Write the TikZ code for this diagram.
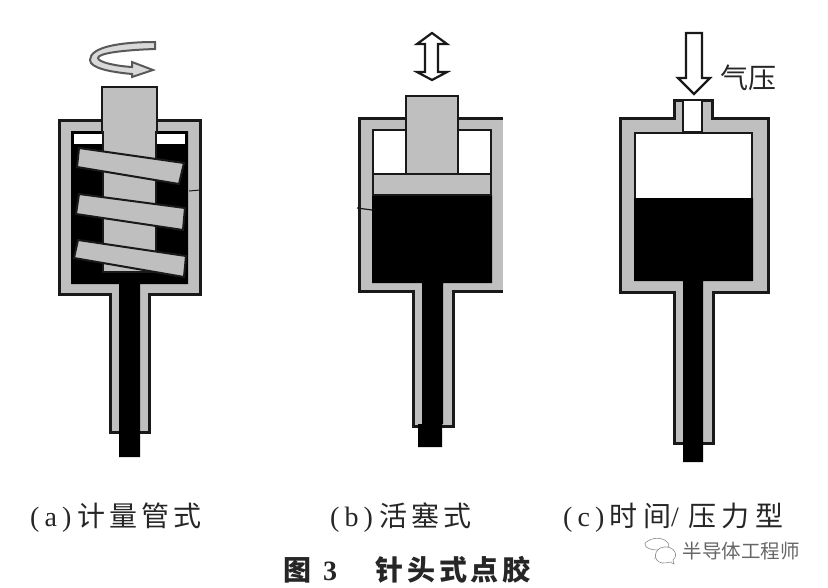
\documentclass[tikz,border=0pt]{standalone}
\usepackage{fontspec}
\setmainfont{Liberation Serif}
\newfontfamily\cjk{Noto Sans CJK SC}
\newfontfamily\cjkwide[LetterSpace=14]{Noto Sans CJK SC}
\newfontfamily\cjkwider[LetterSpace=21]{Noto Sans CJK SC}
\newfontfamily\spaced[LetterSpace=18]{Liberation Serif}
\definecolor{wallgray}{gray}{.75}
\definecolor{inkline}{gray}{.1}
\tikzset{
  wall/.style={draw=inkline, line width=3pt, fill=wallgray, line join=miter},
  glue/.style={fill=black},
  part/.style={draw=inkline, line width=2pt, fill=wallgray},
  flow/.style={draw=inkline, line width=2.2pt, fill=white, line join=miter},
  caption/.style={inner sep=0pt, anchor=west, font=\fontsize{28}{30}\selectfont, text=black!85},
}
\begin{document}
\begin{tikzpicture}[x=1pt,y=-1pt]
      \useasboundingbox (0,0) rectangle (828,587);

      % (a) screw
      \draw[wall] (59,120) -- (200,120) -- (200,294) -- (149,294) -- (149,432) -- (110,432) -- (110,294) -- (59,294) -- cycle;
      \fill[glue] (71,131) -- (188,131) -- (188,284) -- (140,284) -- (140,457) -- (119,457) -- (119,284) -- (71,284) -- cycle;
      \fill[white] (74,134) rectangle (185,144);
      \draw[part] (102,87) -- (157,87) -- (157,132) -- (156,132) -- (156,272) -- (103,272) -- (103,132) -- (102,132) -- cycle;
      \draw[part] (79,148) -- (184,163) -- (179,184) -- (77,167) -- cycle;
      \draw[part] (79,194) -- (185,208) -- (183,230) -- (76,214) -- cycle;
      \draw[part] (78,240) -- (186,256) -- (184,277) -- (74,258) -- cycle;
      \coordinate (atick1) at (189,191);
      \coordinate (atick2) at (200,190);
      \draw[inkline, line width=1pt] (atick1) -- (atick2);
      \draw[draw=black!65, line width=2pt, fill=black!15] (155,42) .. controls (120,42) and (90,47) .. (90,60) .. controls (90,68) and (110,72) .. (132,74) -- (132,77) -- (153,70) -- (132,62) -- (132,67) .. controls (115,66) and (98,62) .. (98,58) .. controls (98,53) and (125,50) .. (155,49) -- cycle;
      \node (capa) at (30,518) [caption] {{\spaced (a)}\kern6pt{\cjkwide 计量管式}};

      % (b) piston
      \fill[wallgray] (359,117) rectangle (503,291);
      \fill[wallgray] (413,291) rectangle (453,426);
      \draw[inkline, line width=3pt] (503,118) -- (359,118) -- (359,291) -- (413,291) -- (413,426) -- (453,426) -- (453,291) -- (503,291);
      \fill[wallgray] (416,288) rectangle (450,300);
      \fill[white, draw=inkline, line width=2.6pt] (373,130) rectangle (491,176);
      \fill[glue] (372,195) -- (492,195) -- (492,283) -- (443,283) -- (443,424) -- (442,424) -- (442,447) -- (418,447) -- (418,424) -- (422,424) -- (422,283) -- (372,283) -- cycle;
      \draw[part] (373,174) rectangle (491,195);
      \draw[part] (406,96) rectangle (458,174);
      \coordinate (btick1) at (357,208);
      \coordinate (btick2) at (372,210);
      \draw[inkline, line width=1.2pt] (btick1) -- (btick2);
      \draw[flow] (432,33) -- (447,44) -- (438,44) -- (438,72) -- (447,72) -- (432,80) -- (417,72) -- (425,72) -- (425,44) -- (417,44) -- cycle;
      \node (capb) at (330,518) [caption] {{\spaced (b)}\kern7pt{\cjkwide 活塞式}};

      % (c) air pressure
      \draw[wall] (620,118) -- (674,118) -- (674,100) -- (712,100) -- (712,118) -- (768,118) -- (768,292) -- (713,292) -- (713,443) -- (674,443) -- (674,292) -- (620,292) -- cycle;
      \draw[inkline, line width=2.6pt, fill=white] (635,133) rectangle (752,200);
      \fill[glue] (634,198) -- (753,198) -- (753,281) -- (703,281) -- (703,462) -- (683,462) -- (683,281) -- (634,281) -- cycle;
      \draw[inkline, line width=2.4pt, fill=white] (683,100) rectangle (702,132);
      \draw[flow] (686,33) -- (702,33) -- (702,78) -- (710,78) -- (694,94) -- (678,78) -- (686,78) -- cycle;
      \node (air) at (720,78) [caption] {\cjk 气压};
      \node (capc) at (563,518) [caption] {{\spaced (c)}\kern5pt{\cjkwider 时间}/\kern9pt{\cjkwider 压力型}};

      % caption
      \node (titlea) at (283,570) [caption] {\bfseries\cjk 图\kern12pt{\rmfamily 3}};
      \node (titleb) at (375,570) [caption] {\bfseries\cjkwide 针头式点胶};

      % watermark
      \draw[black!45, line width=.6pt, fill=white] (658,550) .. controls (646,550) and (641,544) .. (648,541) .. controls (655,536) and (668,538) .. (669,546) -- (655,558) -- cycle;
      \draw[black!45, line width=.6pt, fill=white] (662,563) .. controls (652,561) and (654,548) .. (664,547) .. controls (674,546) and (679,555) .. (673,560) -- (674,564) -- (670,562) .. controls (667,563) and (665,563) .. (662,563) -- cycle;
      \node (mark) at (741,551) [inner sep=0pt, font=\fontsize{19.5}{22}\selectfont, text=black!60] {\cjk 半导体工程师};
\end{tikzpicture}
\end{document}
